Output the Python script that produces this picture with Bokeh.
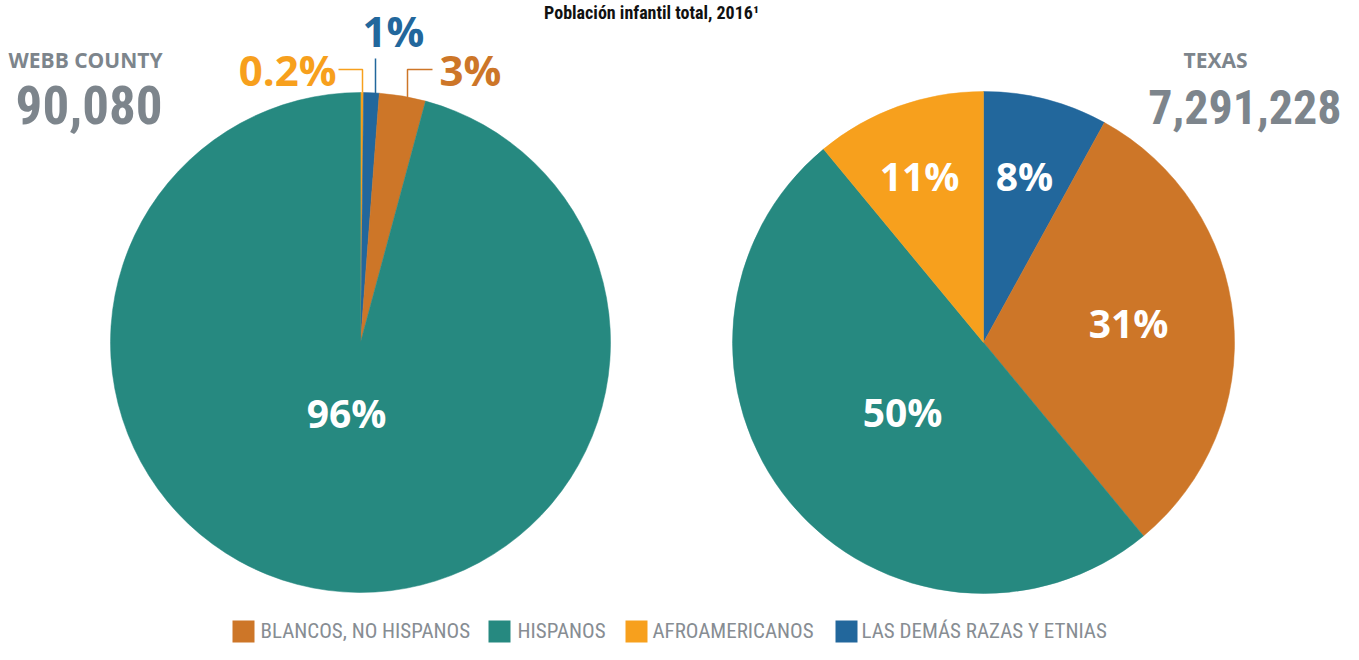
import numpy as np
from bokeh.plotting import figure
from bokeh.models import Range1d, ColumnDataSource
from bokeh.core.properties import value
from bokeh.embed import file_html
from bokeh.resources import INLINE

# ---------------- data ----------------
categories = ["BLANCOS, NO HISPANOS", "HISPANOS", "AFROAMERICANOS", "LAS DEMÁS RAZAS Y ETNIAS"]
colors = ["#CD7628", "#268980", "#F7A01D", "#22679C"]
webb_values = [3, 96, 0.2, 1]
texas_values = [31, 50, 11, 8]
webb_total = "90,080"
texas_total = "7,291,228"
title_text = "Población infantil total, 2016¹"

# clockwise order starting from 12 o'clock
webb_order = [2, 3, 0, 1]
texas_order = [3, 0, 1, 2]

W, H = 1343, 644
SHIFT = 0.43  # baseline correction (fraction of font size)


def sx(x):
    return x


def sy(y):
    return 660 - y


p = figure(width=W, height=H, output_backend="svg", toolbar_location=None,
           x_range=Range1d(0, W), y_range=Range1d(660 - H, 660),
           min_border=0, outline_line_color=None)
p.axis.visible = False
p.grid.visible = False
p.background_fill_color = "white"
p.border_fill_color = "white"

GRAY = "#7D858C"
SANS = "Open Sans"
COND = "Roboto Condensed"


def txt(xs, ys, texts, size, color, font=SANS, bold=True, align="center"):
    p.text(x=[sx(v) for v in xs], y=[sy(v - SHIFT * size) for v in ys], text=texts,
           text_color=color, text_font=value(font),
           text_font_style="bold" if bold else "normal",
           text_font_size=f"{size}px", text_align=align, text_baseline="alphabetic")


def pie(vals, order, cx, cy, r):
    v = np.array([vals[i] for i in order], dtype=float)
    frac = v / v.sum()
    cum = np.concatenate([[0], np.cumsum(frac)])
    start = np.pi / 2 - cum[:-1] * 2 * np.pi
    end = np.pi / 2 - cum[1:] * 2 * np.pi
    src = ColumnDataSource(dict(start=start, end=end,
                                color=[colors[i] for i in order]))
    p.wedge(x=cx, y=cy, radius=r, start_angle="start", end_angle="end",
            direction="clock", fill_color="color", line_color="color",
            line_width=0.5, source=src)


pie(webb_values, webb_order, sx(360), sy(342), 250)
pie(texas_values, texas_order, sx(983), sy(342), 251)


def pct(v):
    return f"{v:g}%"


# inner labels (white)
txt([346, 902, 1128, 919, 1024], [429, 428, 339, 192, 192],
    [pct(webb_values[1]), pct(texas_values[1]), pct(texas_values[0]),
     pct(texas_values[2]), pct(texas_values[3])], 39, "white")

# outer labels for small Webb slices
txt([336], [87], [pct(webb_values[2])], 42, colors[2], align="right")
txt([393], [48], [pct(webb_values[3])], 42, colors[3], align="center")
txt([439], [87], [pct(webb_values[0])], 42, colors[0], align="left")

# leader lines
p.line(x=[sx(338), sx(362), sx(362)], y=[sy(69), sy(69), sy(92)], line_color=colors[2], line_width=1.5)
p.line(x=[sx(375), sx(375)], y=[sy(58), sy(93)], line_color=colors[3], line_width=1.5)
p.line(x=[sx(432), sx(407), sx(407)], y=[sy(69), sy(69), sy(97)], line_color=colors[0], line_width=1.5)

# headers
txt([162], [69], ["WEBB COUNTY"], 21, GRAY, align="right")
txt([162], [127], [webb_total], 53, GRAY, font=COND, align="right")
txt([1183], [69], ["TEXAS"], 21, GRAY, align="left")
txt([1341], [127], [texas_total], 48, GRAY, font=COND, align="right")

# title
txt([651], [20], [title_text], 18, "#111111", font=COND)

# legend
leg_sq_x = [243, 499, 636, 846]
leg_tx_x = [260, 517, 652, 861]
p.rect(x=[sx(v) for v in leg_sq_x], y=[sy(631)] * 4, width=22, height=22,
       fill_color=colors, line_color=None)
txt(leg_tx_x, [640] * 4, categories, 21, "#878D93", font=COND, bold=False, align="left")

open("out.html", "w").write(file_html(p, INLINE))
